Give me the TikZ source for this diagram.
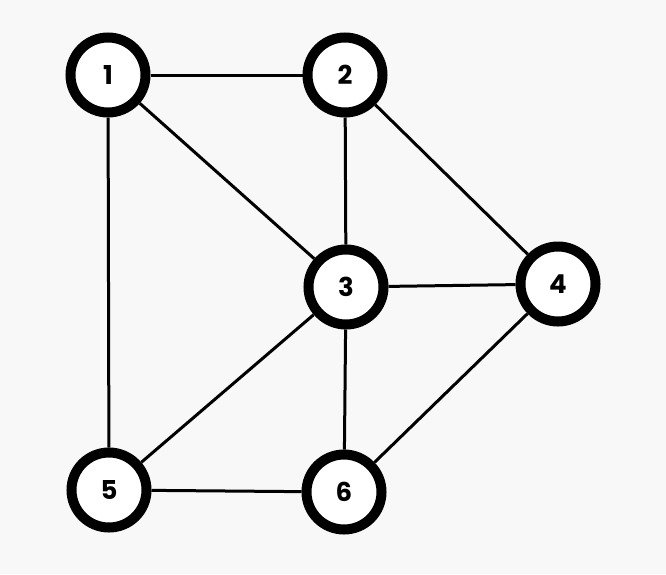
\documentclass[tikz,border=0pt]{standalone}
\usepackage{fontspec}
\setmainfont{Poppins}
\begin{document}
\begin{tikzpicture}[x=1pt,y=-1pt,
    vertex/.style={circle, draw=black, line width=10pt, fill=white,
        minimum size=75pt, inner sep=0pt,
        font=\fontsize{26}{30}\selectfont\bfseries},
    link/.style={line width=3pt, black}]
    \fill[color={rgb,255:red,248;green,248;blue,248}] (0,0) rectangle (666,574);
    \useasboundingbox (0,0) rectangle (666,574);
    \node [vertex] (v1) at (108,75) {1};
    \node [vertex] (v2) at (345,75) {2};
    \node [vertex] (v3) at (346,287) {3};
    \node [vertex] (v4) at (558,284) {4};
    \node [vertex] (v5) at (109,490) {5};
    \node [vertex] (v6) at (344,492) {6};
    \draw[link] (v1) -- (v2);
    \draw[link] (v1) -- (v3);
    \draw[link] (v1) -- (v5);
    \draw[link] (v2) -- (v3);
    \draw[link] (v2) -- (v4);
    \draw[link] (v3) -- (v4);
    \draw[link] (v3) -- (v5);
    \draw[link] (v3) -- (v6);
    \draw[link] (v4) -- (v6);
    \draw[link] (v5) -- (v6);
\end{tikzpicture}
\end{document}
